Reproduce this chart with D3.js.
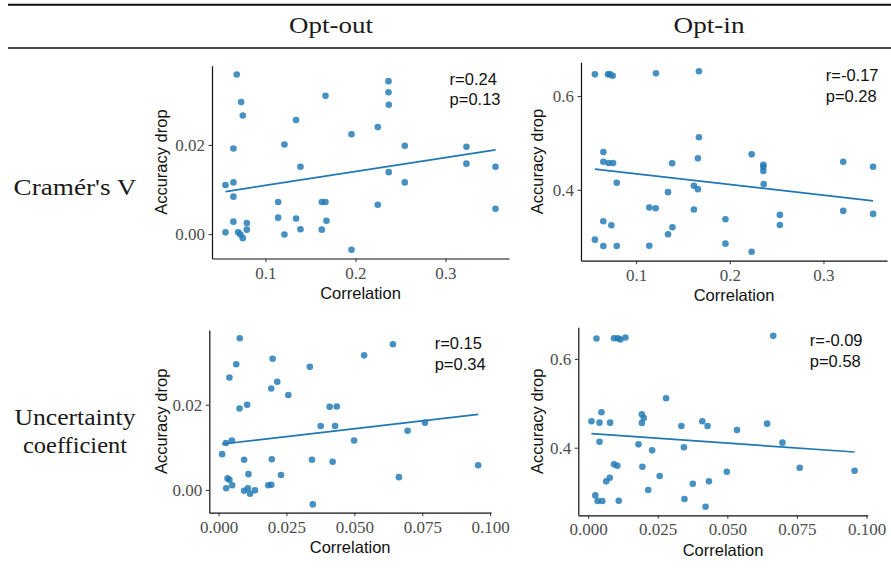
<!DOCTYPE html>
<html>
<head>
<meta charset="utf-8">
<script src="https://cdn.jsdelivr.net/npm/d3@7"></script>
<style>
body { margin: 0; background: #fff; }
</style>
</head>
<body>
<script>
// column / row headers
var columns = ["Opt-out", "Opt-in"];
var rowLabels = [["Cramér's V"], ["Uncertainty", "coefficient"]];

// tick values
var xTicksCramer = [0.1, 0.2, 0.3];
var xTicksUncert = [0, 0.025, 0.05, 0.075, 0.1];
var yTicksOptOut = [0.00, 0.02];
var yTicksOptIn = [0.4, 0.6];

// points: [correlation, accuracy drop]
var cramerOptOut = [
  [0.0681,0.0358],[0.0730,0.0296],[0.0748,0.0266],[0.0644,0.0192],[0.0556,0.0110],
  [0.0644,0.0116],[0.0644,0.0084],[0.0644,0.0028],[0.0556,0.0004],[0.0696,0.0004],
  [0.0722,-0.0001],[0.0748,-0.0009],[0.0793,0.0025],[0.0793,0.0010],[0.1340,0.0256],
  [0.1211,0.0201],[0.1389,0.0151],[0.1141,0.0072],[0.1141,0.0037],[0.1211,-0.0001],
  [0.1340,0.0035],[0.1389,0.0011],[0.1667,0.0310],[0.1626,0.0072],[0.1667,0.0072],
  [0.1678,0.0030],[0.1626,0.0010],[0.1956,0.0224],[0.1956,-0.0035],[0.2248,0.0240],
  [0.2248,0.0066],[0.2367,0.0343],[0.2367,0.0318],[0.2370,0.0290],[0.2370,0.0139],
  [0.2548,0.0198],[0.2548,0.0116],[0.3233,0.0196],[0.3233,0.0158],[0.3556,0.0151],
  [0.3556,0.0057]
];
var cramerOptIn = [
  [0.0559,0.6464],[0.0699,0.6464],[0.0720,0.6464],[0.0749,0.6436],[0.1211,0.6486],
  [0.1670,0.6529],[0.0649,0.4807],[0.0649,0.4600],[0.0706,0.4571],[0.0753,0.4571],
  [0.0792,0.4150],[0.0559,0.2936],[0.0649,0.3329],[0.0649,0.2800],[0.0735,0.3243],
  [0.0792,0.2800],[0.1140,0.3621],[0.1208,0.3607],[0.1140,0.2807],[0.1340,0.3950],
  [0.1384,0.4564],[0.1387,0.3200],[0.1340,0.3050],[0.1670,0.5121],[0.1659,0.4671],
  [0.1616,0.4086],[0.1659,0.4014],[0.1616,0.3579],[0.1953,0.3371],[0.1953,0.2850],
  [0.2233,0.4757],[0.2233,0.2679],[0.2358,0.4536],[0.2358,0.4486],[0.2358,0.4400],
  [0.2362,0.4121],[0.2534,0.3464],[0.2534,0.3250],[0.3211,0.4600],[0.3211,0.3550],
  [0.3530,0.4493],[0.3530,0.3486]
];
var uncertOptOut = [
  [0.0078,0.0356],[0.0065,0.0295],[0.0040,0.0264],[0.0077,0.0191],[0.0105,0.0200],
  [0.0013,0.0084],[0.0027,0.0110],[0.0049,0.0116],[0.0094,0.0071],[0.0033,0.0027],
  [0.0040,0.0024],[0.0050,0.0011],[0.0028,0.0004],[0.0094,-0.0002],[0.0108,0.0004],
  [0.0110,0.0037],[0.0116,-0.0009],[0.0134,-0.0001],[0.0199,0.0308],[0.0194,0.0238],
  [0.0216,0.0254],[0.0257,0.0223],[0.0196,0.0072],[0.0183,0.0011],[0.0194,0.0012],
  [0.0230,0.0035],[0.0336,0.0289],[0.0376,0.0150],[0.0344,0.0071],[0.0347,-0.0034],
  [0.0409,0.0195],[0.0435,0.0196],[0.0429,0.0150],[0.0420,0.0066],[0.0499,0.0116],
  [0.0536,0.0316],[0.0642,0.0342],[0.0664,0.0030],[0.0696,0.0139],[0.0760,0.0158],
  [0.0956,0.0058]
];
var uncertOptIn = [
  [0.0030,0.6459],[0.0093,0.6466],[0.0107,0.6466],[0.0116,0.6436],[0.0134,0.6481],
  [0.0665,0.6519],[0.0012,0.4594],[0.0048,0.4797],[0.0041,0.4564],[0.0079,0.4564],
  [0.0041,0.4135],[0.0280,0.5113],[0.0193,0.4752],[0.0200,0.4669],[0.0193,0.4556],
  [0.0181,0.4075],[0.0230,0.3940],[0.0093,0.3624],[0.0105,0.3594],[0.0195,0.3571],
  [0.0257,0.3361],[0.0078,0.3323],[0.0065,0.3241],[0.0216,0.3045],[0.0026,0.2925],
  [0.0034,0.2797],[0.0051,0.2797],[0.0110,0.2805],[0.0335,0.4489],[0.0344,0.4008],
  [0.0376,0.3188],[0.0346,0.2842],[0.0422,0.2669],[0.0410,0.4594],[0.0429,0.4489],
  [0.0434,0.3241],[0.0498,0.3459],[0.0535,0.4398],[0.0643,0.4541],[0.0698,0.4113],
  [0.0760,0.3549],[0.0957,0.3481]
];

// fitted line: y at the smallest and largest x
var fitCramerOptOut = [0.00955, 0.01888];
var fitCramerOptIn = [0.4443, 0.3764];
var fitUncertOptOut = [0.01078, 0.01773];
var fitUncertOptIn = [0.4316, 0.3902];

var statsR = ["r=0.24", "r=-0.17", "r=0.15", "r=-0.09"];
var statsP = ["p=0.13", "p=0.28", "p=0.34", "p=0.58"];

var panels = [
  {pts: cramerOptOut, fit: fitCramerOptOut, xt: xTicksCramer, yt: yTicksOptOut, xf: ".1f", yf: ".2f",
   box: {l: 212, r: 509, t: 65.7, b: 258.5}, ytx: 166.5},
  {pts: cramerOptIn, fit: fitCramerOptIn, xt: xTicksCramer, yt: yTicksOptIn, xf: ".1f", yf: ".1f",
   box: {l: 581, r: 887, t: 62.3, b: 260.7}, ytx: 542.5},
  {pts: uncertOptOut, fit: fitUncertOptOut, xt: xTicksUncert, yt: yTicksOptOut, xf: ".3f", yf: ".2f",
   box: {l: 209.3, r: 491, t: 330, b: 512.7}, ytx: 166.5},
  {pts: uncertOptIn, fit: fitUncertOptIn, xt: xTicksUncert, yt: yTicksOptIn, xf: ".3f", yf: ".1f",
   box: {l: 578.3, r: 867.7, t: 327.3, b: 515.3}, ytx: 542.5}
];

var svg = d3.select("body").append("svg")
    .attr("width", 891)
    .attr("height", 578);

var serif = "'Liberation Serif', 'Times New Roman', serif";
var sans = "'Liberation Sans', Arial, sans-serif";
var blue = "#1f77b4";

// table rules
svg.append("line").attr("x1", 8).attr("x2", 891).attr("y1", 4.8).attr("y2", 4.8)
    .attr("stroke", "#111").attr("stroke-width", 2);
svg.append("line").attr("x1", 8).attr("x2", 891).attr("y1", 48).attr("y2", 48)
    .attr("stroke", "#111").attr("stroke-width", 1.4);

// column headers
var colX = [331, 709], colW = [84, 71];
columns.forEach(function (c, i) {
  svg.append("text")
    .attr("x", colX[i]).attr("y", 32.5)
    .attr("text-anchor", "middle")
    .attr("font-family", serif).attr("font-size", 24)
    .attr("textLength", colW[i]).attr("lengthAdjust", "spacingAndGlyphs")
    .attr("fill", "#1a1a1a")
    .text(c);
});

// row labels
var rowY = [[195], [425, 452.7]], rowW = [[123], [121, 104]];
rowLabels.forEach(function (lines, i) {
  lines.forEach(function (t, j) {
    svg.append("text")
      .attr("x", 75).attr("y", rowY[i][j])
      .attr("text-anchor", "middle")
      .attr("font-family", serif).attr("font-size", 24)
      .attr("textLength", rowW[i][j]).attr("lengthAdjust", "spacingAndGlyphs")
      .attr("fill", "#1a1a1a")
      .text(t);
  });
});

function padded(ext) {
  var d = (ext[1] - ext[0]) * 0.05;
  return [ext[0] - d, ext[1] + d];
}

panels.forEach(function (p, i) {
  var b = p.box;
  var xExt = d3.extent(p.pts, d => d[0]);
  var yExt = d3.extent(p.pts, d => d[1]);
  var x = d3.scaleLinear().domain(padded(xExt)).range([b.l, b.r]);
  var y = d3.scaleLinear().domain(padded(yExt)).range([b.b, b.t]);

  var g = svg.append("g");

  var xAxis = g.append("g")
    .attr("transform", "translate(0," + b.b + ")")
    .call(d3.axisBottom(x).tickValues(p.xt).tickFormat(d3.format(p.xf))
      .tickSizeInner(3.5).tickSizeOuter(0).tickPadding(4));
  var yAxis = g.append("g")
    .attr("transform", "translate(" + b.l + ",0)")
    .call(d3.axisLeft(y).tickValues(p.yt).tickFormat(d3.format(p.yf))
      .tickSizeInner(3.5).tickSizeOuter(0).tickPadding(3.5));

  [xAxis, yAxis].forEach(function (a) {
    a.select(".domain").attr("stroke", "#111").attr("stroke-width", 1.2);
    a.selectAll(".tick line").attr("stroke", "#333").attr("stroke-width", 1);
    a.selectAll(".tick text")
      .attr("font-family", serif).attr("font-size", 17)
      .attr("fill", "#4d4d4d");
  });
  xAxis.selectAll(".tick text").attr("dy", null).attr("y", 20);
  yAxis.selectAll(".tick text").attr("dy", "0.34em");

  // points
  g.selectAll(".dot")
    .data(p.pts)
    .enter()
    .append("circle")
    .attr("class", "dot")
    .attr("cx", d => x(d[0]))
    .attr("cy", d => y(d[1]))
    .attr("r", 3.3)
    .attr("fill", blue)
    .attr("fill-opacity", 0.82);

  // regression line
  g.append("line")
    .attr("x1", x(xExt[0])).attr("y1", y(p.fit[0]))
    .attr("x2", x(xExt[1])).attr("y2", y(p.fit[1]))
    .attr("stroke", blue).attr("stroke-width", 1.7);

  // axis titles
  g.append("text")
    .attr("x", (b.l + b.r) / 2).attr("y", b.b + 40.5)
    .attr("text-anchor", "middle")
    .attr("font-family", sans).attr("font-size", 16.5)
    .attr("fill", "#111")
    .text("Correlation");
  g.append("text")
    .attr("transform", "translate(" + p.ytx + "," + (b.t + b.b) / 2 + ") rotate(-90)")
    .attr("text-anchor", "middle")
    .attr("font-family", sans).attr("font-size", 16.5)
    .attr("fill", "#111")
    .text("Accuracy drop");

  // stats
  var sx = b.l + 0.8 * (b.r - b.l);
  g.append("text").attr("x", sx).attr("y", b.t + 18.8)
    .attr("font-family", sans).attr("font-size", 16.5).attr("fill", "#111")
    .text(statsR[i]);
  g.append("text").attr("x", sx).attr("y", b.t + 39.5)
    .attr("font-family", sans).attr("font-size", 16.5).attr("fill", "#111")
    .text(statsP[i]);
});
</script>
</body>
</html>
